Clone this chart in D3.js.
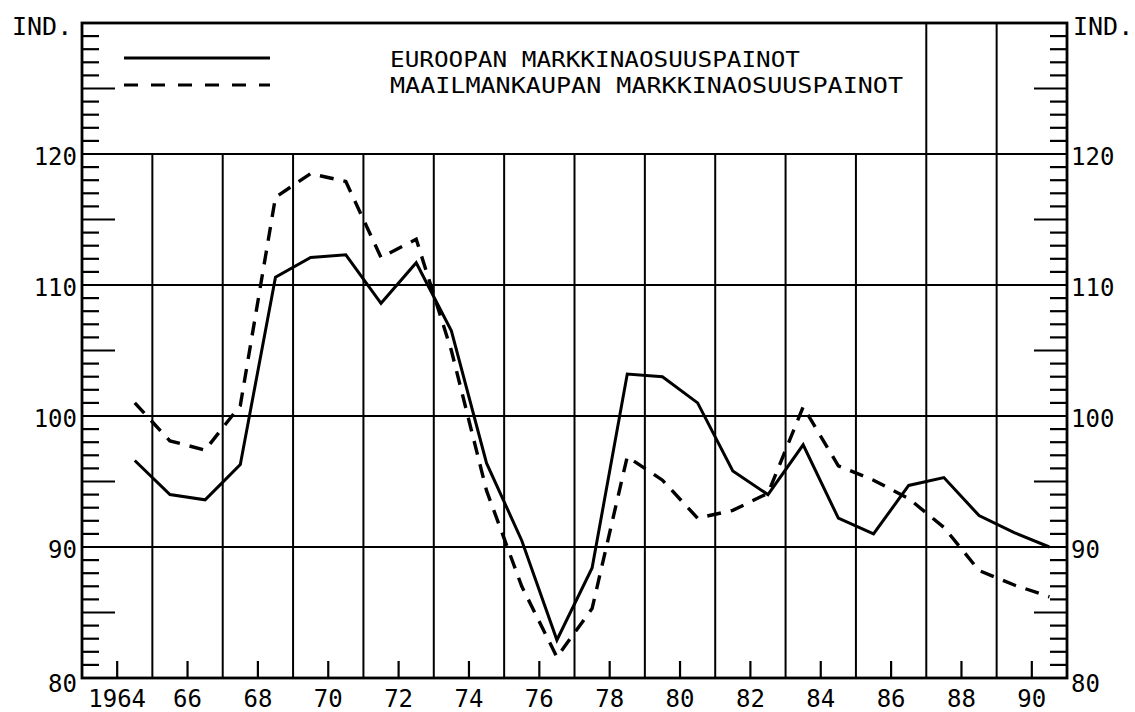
<!DOCTYPE html>
<html>
<head>
<meta charset="utf-8">
<script src="https://cdn.jsdelivr.net/npm/d3@7"></script>
<style>
  html, body { margin: 0; padding: 0; background: #fff; }
  svg { display: block; }
  text { font-family: "DejaVu Sans Mono", "Liberation Mono", monospace; fill: #000; }
</style>
</head>
<body>
<svg id="chart" width="1135" height="712"></svg>
<script>
// ---- data ----
const years = d3.range(1964, 1991);
const europe = [96.6, 94.0, 93.6, 96.3, 110.6, 112.1, 112.3, 108.6, 111.7, 106.5,
                96.4, 90.5, 82.9, 88.4, 103.2, 103.0, 101.0, 95.8, 94.0, 97.8,
                92.2, 91.0, 94.7, 95.3, 92.4, 91.1, 90.0];
const world  = [101.0, 98.1, 97.4, 100.8, 116.7, 118.5, 117.9, 112.1, 113.5, 105.0,
                94.3, 87.0, 81.6, 85.3, 96.9, 95.1, 92.2, 92.8, 94.1, 100.7,
                96.2, 95.1, 93.7, 91.5, 88.2, 87.1, 86.2];
const seriesNames = ["EUROOPAN MARKKINAOSUUSPAINOT", "MAAILMANKAUPAN MARKKINAOSUUSPAINOT"];
const yLabels = [80, 90, 100, 110, 120];
const xLabelYears = d3.range(1964, 1991, 2);
const xLabelText = xLabelYears.map(y => y === 1964 ? "1964" : String(y % 100));
const gridYears = d3.range(1965, 1990, 2);
const axisTitle = "IND.";

// ---- layout ----
const svg = d3.select("#chart");
const x = d3.scaleLinear().domain([1963, 1991]).range([82, 1067]);
const y = d3.scaleLinear().domain([80, 130]).range([678, 23]);
const [x0, x1] = x.range();
const [yb, yt] = y.range();
const ink = "#000";

// horizontal gridlines
svg.append("g").selectAll("line").data([90, 100, 110, 120]).join("line")
  .attr("x1", x0).attr("x2", x1)
  .attr("y1", d => y(d)).attr("y2", d => y(d))
  .attr("stroke", ink).attr("stroke-width", 2.2);

// vertical gridlines (odd years); only the last two reach into the legend area
svg.append("g").selectAll("line").data(gridYears).join("line")
  .attr("x1", d => x(d)).attr("x2", d => x(d))
  .attr("y1", d => d >= 1987 ? yt : y(120)).attr("y2", yb)
  .attr("stroke", ink).attr("stroke-width", 2);

// minor ticks on left & right axes
const minor = d3.range(81, 130).filter(v => v % 10 !== 0);
const tickLen = v => v % 5 === 0 ? 33 : 17;
svg.append("g").selectAll("line").data(minor).join("line")
  .attr("x1", x0).attr("x2", v => x0 + tickLen(v))
  .attr("y1", v => y(v)).attr("y2", v => y(v))
  .attr("stroke", ink).attr("stroke-width", 2.2);
svg.append("g").selectAll("line").data(minor).join("line")
  .attr("x1", x1).attr("x2", v => x1 - tickLen(v))
  .attr("y1", v => y(v)).attr("y2", v => y(v))
  .attr("stroke", ink).attr("stroke-width", 2.2);

// bottom ticks at even years
svg.append("g").selectAll("line").data(xLabelYears).join("line")
  .attr("x1", d => x(d)).attr("x2", d => x(d))
  .attr("y1", yb).attr("y2", yb - 17)
  .attr("stroke", ink).attr("stroke-width", 2.2);

// frame
svg.append("rect").attr("x", x0).attr("y", yt)
  .attr("width", x1 - x0).attr("height", yb - yt)
  .attr("fill", "none").attr("stroke", ink).attr("stroke-width", 2.8);

// data lines (points at mid-year)
const line = d3.line().x((d, i) => x(years[i] + 0.5)).y(d => y(d));
svg.append("path").datum(europe).attr("d", line)
  .attr("fill", "none").attr("stroke", ink).attr("stroke-width", 3)
  .attr("stroke-linejoin", "miter");
svg.append("path").datum(world).attr("d", line)
  .attr("fill", "none").attr("stroke", ink).attr("stroke-width", 3.4)
  .attr("stroke-dasharray", "14 10");

// legend
const legY = [58, 85];
svg.append("line").attr("x1", 124).attr("x2", 270).attr("y1", legY[0]).attr("y2", legY[0])
  .attr("stroke", ink).attr("stroke-width", 3);
svg.append("line").attr("x1", 124).attr("x2", 270).attr("y1", legY[1]).attr("y2", legY[1])
  .attr("stroke", ink).attr("stroke-width", 3.2).attr("stroke-dasharray", "14 13");
svg.append("text").attr("x", 390).attr("y", 67).attr("font-size", 22)
  .attr("textLength", 410).attr("lengthAdjust", "spacingAndGlyphs").text(seriesNames[0]);
svg.append("text").attr("x", 390).attr("y", 93).attr("font-size", 22)
  .attr("textLength", 513).attr("lengthAdjust", "spacingAndGlyphs").text(seriesNames[1]);

// y labels
const lblDy = v => v === 80 ? 14 : 11;
svg.append("g").selectAll("text").data(yLabels).join("text")
  .attr("x", 77).attr("y", v => y(v) + lblDy(v)).attr("text-anchor", "end")
  .attr("font-size", 24).text(v => v);
svg.append("g").selectAll("text").data(yLabels).join("text")
  .attr("x", 1071).attr("y", v => y(v) + lblDy(v)).attr("text-anchor", "start")
  .attr("font-size", 24).text(v => v);

// x labels
svg.append("g").selectAll("text").data(xLabelYears).join("text")
  .attr("x", d => x(d)).attr("y", 707).attr("text-anchor", "middle")
  .attr("font-size", 24).text((d, i) => xLabelText[i]);

// axis titles
svg.append("text").attr("x", 12).attr("y", 35).attr("font-size", 25).text(axisTitle);
svg.append("text").attr("x", 1073).attr("y", 35).attr("font-size", 25).text(axisTitle);
</script>
</body>
</html>
